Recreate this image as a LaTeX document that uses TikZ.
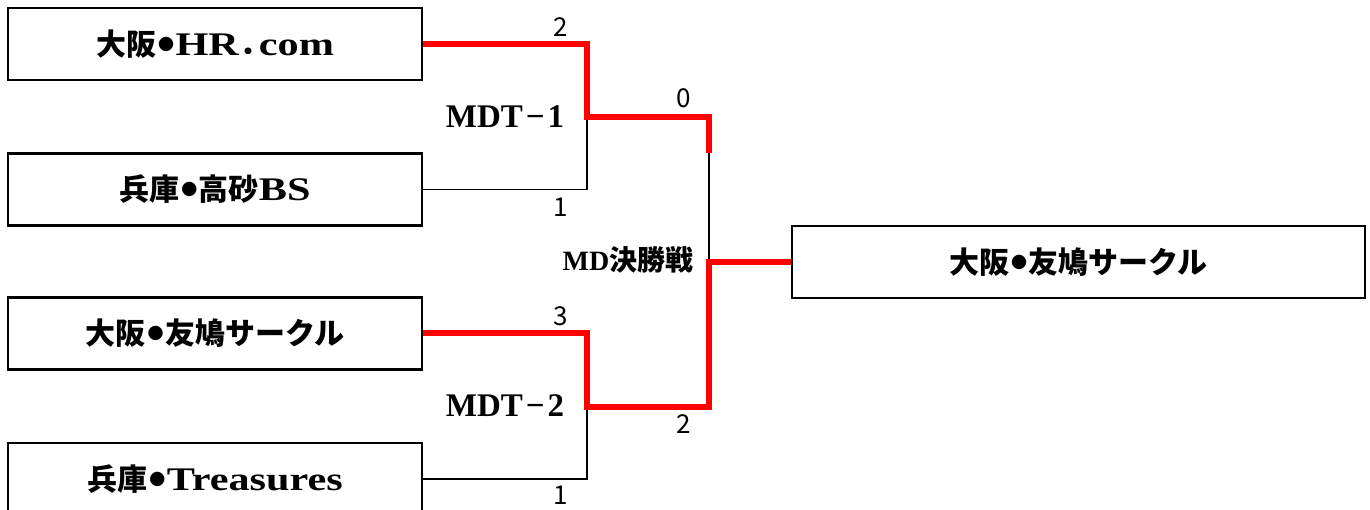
\documentclass[tikz,border=0pt]{standalone}
\usepackage{fontspec}
\setmainfont{Liberation Serif}
\newfontfamily\latf[FakeStretch=1.28]{Liberation Serif}
\newfontfamily\jpf{Noto Sans CJK JP}
\newfontfamily\numf{Noto Sans CJK JP}
\newcommand\jp[1]{{\jpf\fontsize{30}{36}\selectfont #1}}
\newcommand\nkg{\kern2pt\raisebox{5pt}{\jpf\fontsize{16}{16}\selectfont ●}\kern1.5pt}
\newcommand\zdot{\kern1pt{\jpf\fontsize{30}{36}\selectfont ．}\kern-11pt}
\begin{document}
\begin{tikzpicture}[x=1pt,y=-1pt,
  team/.style={draw=black,line width=2.2pt,minimum width=414pt,minimum height=72pt,inner sep=0pt,
    font=\latf\fontsize{33}{36}\selectfont\bfseries},
  champ/.style={team,minimum width=573pt},
  lose/.style={draw=black,line width=1.6pt},
  win/.style={draw=red,line width=6pt},
  score/.style={font=\numf\fontsize{26}{28}\selectfont,inner sep=0pt},
  rnd/.style={font=\fontsize{33}{36}\selectfont\bfseries,inner sep=0pt},
]
\useasboundingbox (0,0) rectangle (1370,510);
\node[team] (b1) at (215,44) {\jp{大阪}\nkg HR\zdot com};
\node[team] (b2) at (215,189.5) {\jp{兵庫}\nkg\jp{高砂}BS};
\node[team] (b3) at (215,333.5) {\jp{大阪}\nkg\jp{友鳩サークル}};
\node[team] (b4) at (215,479) {\jp{兵庫}\nkg Treasures};
\node[champ] (fin) at (1078.5,262) {\jp{大阪}\nkg\jp{友鳩サークル}};

\coordinate (m1) at (587,117);
\coordinate (m2) at (587,407);
\coordinate (ft) at (709,153);
\coordinate (fm) at (709,262);

% losing paths
\draw[lose] (b2.east) -- (m1 |- b2.east) -- (m1);
\draw[lose] (b4.east) -- (m2 |- b4.east) -- (m2);
\draw[lose] (ft) -- (fm);
% winning paths
\draw[win] (b1.east) -- (m1 |- b1.east) -- (m1) -- (ft |- m1) -- (ft);
\draw[win] (b3.east) -- (m2 |- b3.east) -- (m2) -- (ft |- m2) -- (fm) -- (fin.west);

% scores
\node[score] (s1) at (561,27) {2};
\node[score] (s2) at (561,207) {1};
\node[score] (s3) at (684,98) {0};
\node[score] (s4) at (561,316) {3};
\node[score] (s5) at (561,495) {1};
\node[score] (s6) at (684,424) {2};

% round labels
\node[rnd] (r1) at (505,117) {MDT\kern3pt−\kern3pt1};
\node[rnd] (r2) at (505,406) {MDT\kern3pt−\kern3pt2};
\node[rnd,font=\fontsize{28}{32}\selectfont\bfseries] (r3) at (628,260) {MD{\jpf 決勝戦}};
\end{tikzpicture}
\end{document}
